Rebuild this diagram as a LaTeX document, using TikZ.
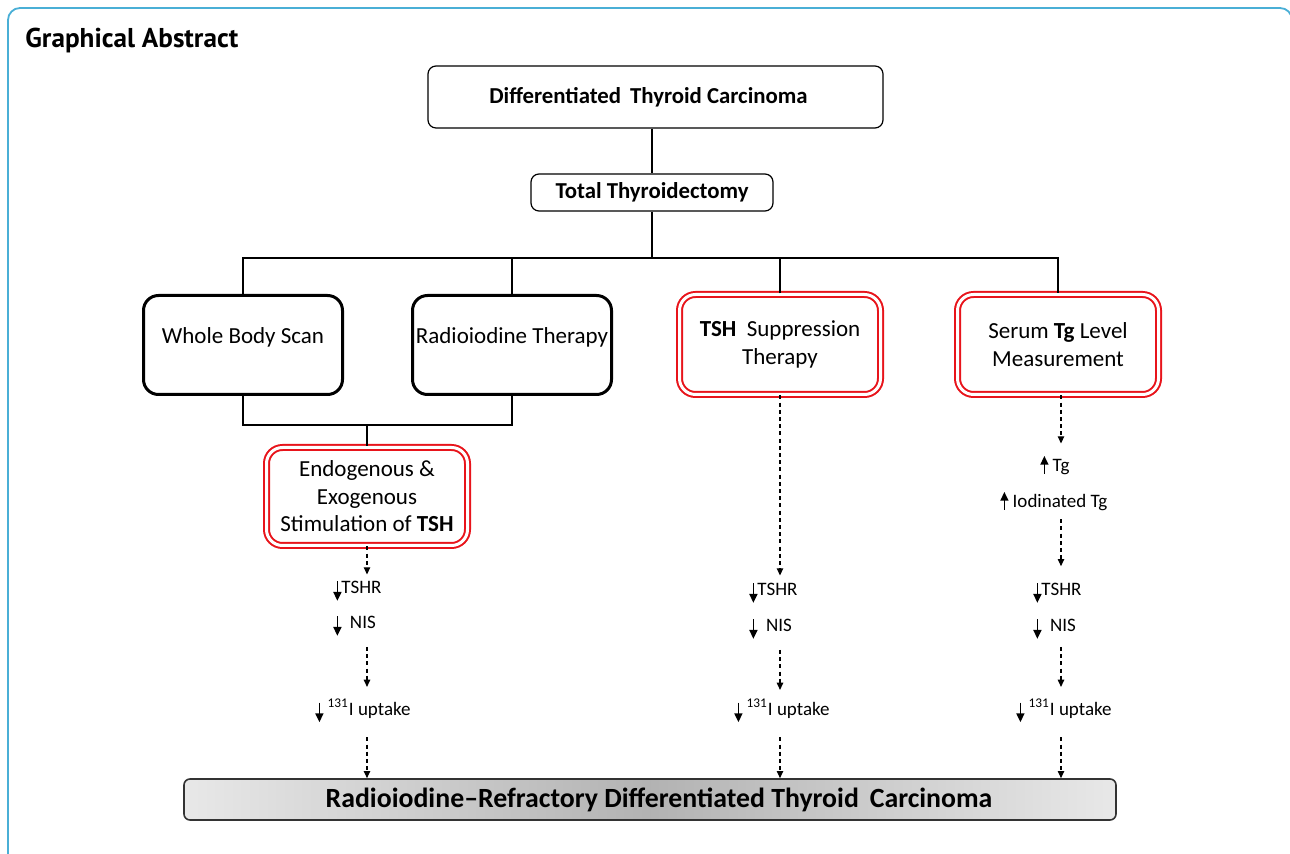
\documentclass[tikz,border=0pt]{standalone}
\usepackage{fontspec}
\setmainfont{Carlito}
\newfontfamily\titlefont{PT Sans}
\usetikzlibrary{arrows.meta,calc}
\definecolor{framecol}{HTML}{4AAFD6}
\definecolor{redline}{HTML}{E8141B}
\newcommand\dnarrow{\tikz[baseline=0pt]\draw[line width=0.75pt,-{Triangle[length=4.4pt,width=4pt]}] (0pt,6.4pt) -- (0pt,-3.4pt);}
\newcommand\uparr{\tikz[baseline=0pt]\draw[line width=0.75pt,-{Triangle[length=4.4pt,width=4pt]}] (0pt,-1pt) -- (0pt,7.8pt);}
\tikzset{
  conn/.style={line width=0.65pt},
  dar/.style={line width=0.6pt, dash pattern=on 2pt off 1.6pt, -{Triangle[length=3.6pt,width=3.2pt]}},
  thinbox/.style={draw, line width=0.6pt, rounded corners=4pt, inner sep=0pt, align=center, font=\fontsize{11.4}{13}\selectfont\bfseries},
  blackbox/.style={draw, line width=1.5pt, rounded corners=7.5pt, inner sep=0pt, align=center, minimum width=99.5pt, minimum height=49.5pt, font=\fontsize{11.5}{13.7}\selectfont},
  redbox/.style={draw=redline, double=white, line width=1pt, double distance=1.5pt, rounded corners=8pt, inner sep=0pt, align=center, minimum width=100.5pt, minimum height=50pt, font=\fontsize{11.5}{13.7}\selectfont},
  lab/.style={inner sep=1pt, anchor=west, font=\fontsize{9.5}{11}\selectfont},
}
\begin{document}
\begin{tikzpicture}[x=0.5pt,y=-0.5pt]
\useasboundingbox (0,0) rectangle (1290,854);
\begin{scope}
\clip (0,0) rectangle (1290,854);
\draw[framecol, line width=0.9pt, rounded corners=6pt] (8,900) -- (8,8) -- (1292,8) -- (1292,900);
\end{scope}
\node[anchor=base west, inner sep=0pt, font=\titlefont\fontsize{13.6}{15}\selectfont\bfseries] (title) at (25,48) {Graphical Abstract};

\node[thinbox, minimum width=227.5pt, minimum height=31pt] (dtc) at (655.5,97) {Differentiated\, Thyroid Carcinoma\hspace*{7pt}};
\node[thinbox, minimum width=121pt, minimum height=18.5pt] (tt) at (652,192.5) {Total Thyroidectomy};

\node[blackbox] (wbs) at (243,345) {Whole Body Scan\\[-4.7pt]\mbox{}};
\node[blackbox] (rt) at (512,345) {Radioiodine Therapy\\[-4.7pt]\mbox{}};
\node[redbox] (tsh) at (780,344.5) {\textbf{TSH}\ \ Suppression\\Therapy};
\node[redbox] (tg) at (1058,344.5) {Serum \textbf{Tg} Level\\Measurement};
\node[redbox, minimum height=49pt] (endo) at (367,496.5) {Endogenous \&\\Exogenous\\Stimulation of \textbf{TSH}};

\node[draw=black!80, line width=0.8pt, rounded corners=3pt, left color=black!9, right color=black!9, middle color=black!30, minimum width=466pt, minimum height=20.5pt, inner sep=0pt, font=\fontsize{13.9}{15}\selectfont\bfseries] (rr) at (650,799.5) {\hspace*{9pt}Radioiodine--Refractory Differentiated Thyroid\, Carcinoma};

% tree connectors
\coordinate (bus) at (652,258);
\coordinate (merge) at (367,425);
\draw[conn] (dtc.south -| tt.north) -- (tt.north);
\draw[conn] (tt.south) -- (bus);
\draw[conn] (wbs.north) |- (bus) -| (tg.north);
\draw[conn] (rt.north) -- (rt.north |- bus);
\draw[conn] (tsh.north) -- (tsh.north |- bus);
\draw[conn] (wbs.south) |- (merge) -| (rt.south);
\draw[conn] (merge) -- (endo.north);

% left column labels
\node[lab] (l1) at (331,591) {\dnarrow TSHR};
\node[lab] (l2) at (331,626) {\dnarrow\ \ NIS};
\node[lab] (l3) at (313,711) {\dnarrow\ \textsuperscript{131}I uptake};
% middle column labels
\node[lab] (m1) at (747,593) {\dnarrow TSHR};
\node[lab] (m2) at (747,629) {\dnarrow\ \ NIS};
\node[lab] (m3) at (732,711) {\dnarrow\ \textsuperscript{131}I uptake};
% right column labels
\node[lab] (r0) at (1038,465) {\uparr\ Tg};
\node[lab] (r01) at (998,501) {\uparr\ Iodinated Tg};
\node[lab] (r1) at (1031,593) {\dnarrow TSHR};
\node[lab] (r2) at (1031,629) {\dnarrow\ \ NIS};
\node[lab] (r3) at (1014,711) {\dnarrow\ \textsuperscript{131}I uptake};

% dashed arrows
\draw[dar] (endo.south) -- ++(0,28);
\draw[dar] (endo.south |- l2.south) ++(0,8) -- ++(0,40);
\draw[dar] (endo.south |- l3.south) ++(0,12) -- (endo.south |- rr.north);
\draw[dar] (tsh.south) -- ++(0,180);
\draw[dar] (tsh.south |- m2.south) ++(0,8) -- ++(0,40);
\draw[dar] (tsh.south |- m3.south) ++(0,12) -- (tsh.south |- rr.north);
\draw[dar] (tg.south) ++(3,0) -- ++(0,48);
\draw[dar] ($(tg.south |- r01.south)+(3,6)$) -- ++(0,47);
\draw[dar] ($(tg.south |- r2.south)+(3,5)$) -- ++(0,40);
\draw[dar] ($(tg.south |- r3.south)+(3,12)$) -- ($(tg.south |- rr.north)+(3,0)$);
\end{tikzpicture}
\end{document}
